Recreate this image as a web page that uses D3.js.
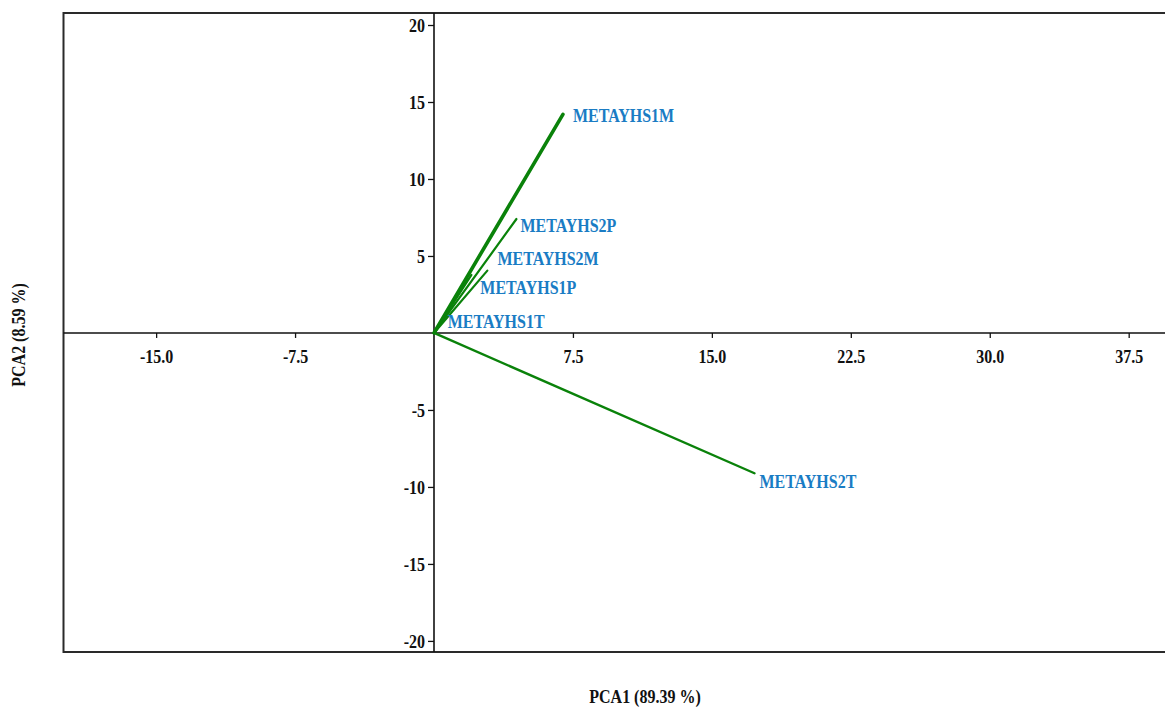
<!DOCTYPE html>
<html>
<head>
<meta charset="utf-8">
<script src="https://cdn.jsdelivr.net/npm/d3@7/dist/d3.min.js"></script>
<style>
  html, body { margin: 0; padding: 0; background: #fff; }
  svg { display: block; }
  text { font-family: "Liberation Serif", "Times New Roman", serif; font-weight: bold; }
</style>
</head>
<body>
<svg id="chart" width="1165" height="707"></svg>
<script>
// Loading vectors (PCA1, PCA2) for each variable
const variables = ["METAYHS1M", "METAYHS2P", "METAYHS2M", "METAYHS1P", "METAYHS1T", "METAYHS2T"];
const pca1 = [6.96, 4.45, 2.02, 2.88, 1.82, 17.3];
const pca2 = [14.2, 7.4, 3.77, 4.05, 3.5, -9.11];

// Axis tick values and labels
const xTicks = [-15, -7.5, 7.5, 15, 22.5, 30, 37.5];
const xTickLabels = ["-15.0", "-7.5", "7.5", "15.0", "22.5", "30.0", "37.5"];
const yTicks = [20, 15, 10, 5, -5, -10, -15, -20];
const yTickLabels = ["20", "15", "10", "5", "-5", "-10", "-15", "-20"];

const xTitle = "PCA1 (89.39 %)";
const yTitle = "PCA2 (8.59 %)";

// Label placement relative to each vector tip (pixels, to the text baseline)
const labelNudge = {
  METAYHS1M: [10, 8],
  METAYHS2P: [4, 13],
  METAYHS2M: [26, -10],
  METAYHS1P: [-7, 23],
  METAYHS1T: [-20, 49],
  METAYHS2T: [5, 15]
};

// Glyphs are drawn slightly tall (narrow serif look)
const TALL = 1.2;

const svg = d3.select("#chart");

const x = d3.scaleLinear().domain([-20, 40]).range([63.5, 1175]);
const y = d3.scaleLinear().domain([-20.72, 20.78]).range([652, 13]);

// Plot frame
svg.append("rect")
  .attr("x", x(-20)).attr("y", y(20.78))
  .attr("width", x(40) - x(-20)).attr("height", y(-20.72) - y(20.78))
  .attr("fill", "none").attr("stroke", "#2a2a2a").attr("stroke-width", 2);

// Horizontal axis through the origin
const xAxis = d3.axisBottom(x)
  .tickValues(xTicks)
  .tickFormat((d, i) => xTickLabels[i])
  .tickSize(5);
const gx = svg.append("g").attr("transform", `translate(0,${y(0)})`).call(xAxis);
gx.select(".domain").attr("d", `M${x(-20)},0H${x(40)}`).attr("stroke", "#111").attr("stroke-width", 1.6);
gx.selectAll(".tick line").attr("stroke", "#111").attr("stroke-width", 1.3);
gx.selectAll(".tick text")
  .attr("y", 0).attr("dy", null)
  .attr("transform", `translate(0,30) scale(1,${TALL})`)
  .attr("fill", "#111").style("font-size", "16px")
  .style("font-family", "'Liberation Serif', serif").style("font-weight", "bold");

// Vertical axis through the origin
const yAxis = d3.axisLeft(y)
  .tickValues(yTicks)
  .tickFormat((d, i) => yTickLabels[i])
  .tickSize(6);
const gy = svg.append("g").attr("transform", `translate(${x(0)},0)`).call(yAxis);
gy.select(".domain").attr("d", `M0,${y(20.78)}V${y(-20.72)}`).attr("stroke", "#111").attr("stroke-width", 1.6);
gy.selectAll(".tick line").attr("stroke", "#111").attr("stroke-width", 1.3);
gy.selectAll(".tick text")
  .attr("x", 0).attr("dy", null)
  .attr("transform", `translate(-9,6.5) scale(1,${TALL})`)
  .attr("fill", "#111").style("font-size", "16px")
  .style("font-family", "'Liberation Serif', serif").style("font-weight", "bold");

// Vectors from the origin
const rows = variables.map((name, i) => ({ name, pc1: pca1[i], pc2: pca2[i] }));

svg.append("g").selectAll("line")
  .data(rows)
  .join("line")
  .attr("x1", x(0)).attr("y1", y(0))
  .attr("x2", d => x(d.pc1)).attr("y2", d => y(d.pc2))
  .attr("stroke", "#0a820a")
  .attr("stroke-width", d => d.name === "METAYHS1M" ? 3.6 : (d.name === "METAYHS2T" ? 2.4 : 2.2))
  .attr("stroke-linecap", "round");

// Variable labels
svg.append("g").selectAll("text")
  .data(rows)
  .join("text")
  .attr("transform", d =>
    `translate(${x(d.pc1) + labelNudge[d.name][0]},${y(d.pc2) + labelNudge[d.name][1]}) scale(1,${TALL})`)
  .attr("fill", "#1a7cc4")
  .style("font-size", "16px")
  .text(d => d.name);

// Axis titles
svg.append("text")
  .attr("transform", `translate(645,703) scale(1,${TALL})`)
  .attr("text-anchor", "middle")
  .attr("fill", "#111")
  .style("font-size", "16px")
  .text(xTitle);

svg.append("text")
  .attr("transform", `translate(25,335) rotate(-90) scale(1,${TALL})`)
  .attr("text-anchor", "middle")
  .attr("fill", "#111")
  .style("font-size", "16px")
  .text(yTitle);
</script>
</body>
</html>
